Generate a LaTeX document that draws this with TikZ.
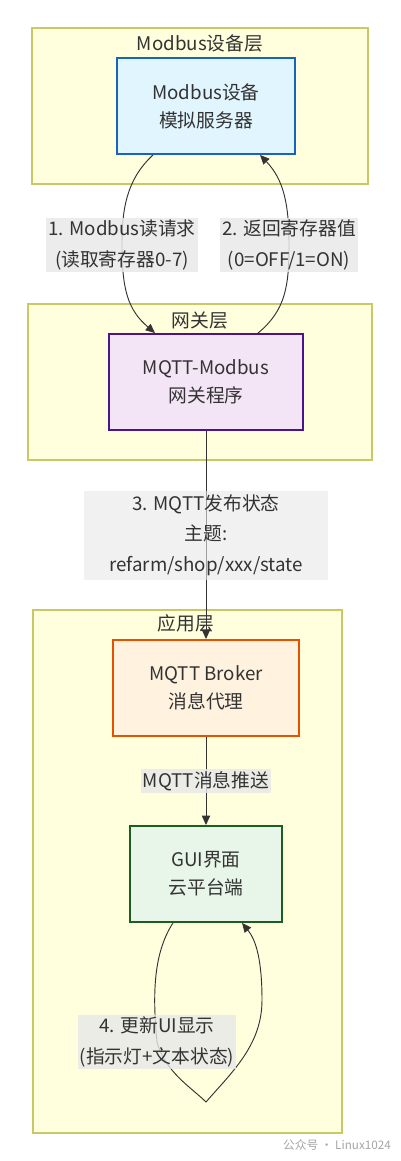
\documentclass[tikz,border=0pt]{standalone}
\usepackage{fontspec}
\setmainfont{Noto Sans CJK SC}
\usetikzlibrary{arrows.meta,calc}
\definecolor{txt}{HTML}{333333}
\definecolor{layerfill}{HTML}{FFFFDE}
\definecolor{layerline}{HTML}{C8C864}
\definecolor{lblfill}{HTML}{E8E8E8}
\definecolor{devfill}{HTML}{E1F5FE}
\definecolor{devline}{HTML}{1565C0}
\definecolor{gwfill}{HTML}{F3E5F5}
\definecolor{gwline}{HTML}{4A148C}
\definecolor{brkfill}{HTML}{FFF3E0}
\definecolor{brkline}{HTML}{E65100}
\definecolor{guifill}{HTML}{E8F5E9}
\definecolor{guiline}{HTML}{1B5E20}
\begin{document}
\begin{tikzpicture}[x=0.03cm, y=-0.03cm,
    layer/.style={draw=layerline, fill=layerfill, line width=0.9pt, inner sep=0pt},
    title/.style={text=txt, font=\fontsize{16}{20}\selectfont},
    box/.style={line width=1.6pt, text=txt, align=center, inner sep=0pt,
      minimum height=2.88cm, font=\fontsize{16}{24}\selectfont},
    edge/.style={draw=txt, line width=0.8pt},
    tip/.style={-{Triangle[length=8pt, width=7pt]}},
    lbl/.style={fill=lblfill, fill opacity=0.8, text opacity=1, text=txt, align=center,
      inner sep=2pt, font=\fontsize{16}{26}\selectfont}]
    \fill[white] (0,0) rectangle (401,1161);
    \useasboundingbox (0,0) rectangle (401,1161);

    % Layers
    \node[layer, minimum width=10.08cm, minimum height=4.68cm] (devlayer) at (200,106) {};
    \node[layer, minimum width=10.32cm, minimum height=4.68cm] (gwlayer) at (200,382) {};
    \node[layer, minimum width=9.27cm, minimum height=15.69cm] (applayer) at (187.5,871.5) {};
    \node[title] (devtitle) at (200,43) {Modbus设备层};
    \node[title] (gwtitle) at (200,320) {网关层};
    \node[title] (apptitle) at (186,623) {应用层};

    % Components
    \node[box, draw=devline, fill=devfill, minimum width=5.34cm] (dev) at (206,106) {Modbus设备\\模拟服务器};
    \node[box, draw=gwline, fill=gwfill, minimum width=5.82cm] (gw) at (206,382) {MQTT-Modbus\\网关程序};
    \node[box, draw=brkline, fill=brkfill, minimum width=5.58cm] (broker) at (206,688) {MQTT Broker\\消息代理};
    \node[box, draw=guiline, fill=guifill, minimum width=4.56cm] (gui) at (206,874) {GUI界面\\云平台端};

    % Modbus request and reply
    \draw[edge, tip] ($(dev.south)+(-53,0)$) .. controls (126,180) and (122,210) .. (122,245)
        node[lbl] {1. Modbus读请求\\(读取寄存器0-7)}
        .. controls (122,290) and (128,310) .. ($(gw.north)+(-51,0)$);
    \draw[edge, tip] ($(gw.north)+(52,0)$) .. controls (286,310) and (289,285) .. (289,245)
        node[lbl] {2. 返回寄存器值\\(0=OFF/1=ON)}
        .. controls (289,205) and (284,180) .. ($(dev.south)+(54,0)$);

    % Publish and push
    \draw[edge, tip] (gw) -- (broker)
        node[lbl, midway, fill opacity=0.6, minimum width=7.32cm, minimum height=2.67cm]
        {3. MQTT发布状态\\主题:\\refarm/shop/xxx/state};
    \draw[edge, tip] (broker) -- (gui) node[lbl, midway] {MQTT消息推送};

    % Self update loop
    \draw[edge, tip] ($(gui.south)+(-33,0)$) .. controls (152,955) and (153,1000) .. (157,1042)
        node[lbl] {4. 更新UI显示\\(指示灯+文本状态)}
        .. controls (165,1072) and (192,1088) .. (206,1102)
        .. controls (232,1072) and (262,1045) .. (262,1000)
        .. controls (262,960) and (256,940) .. ($(gui.south)+(36,0)$);

    % Watermark
    \node[text=gray!70, font=\fontsize{10}{12}\selectfont] (mark) at (337,1145) {公众号 · Linux1024};
\end{tikzpicture}
\end{document}
